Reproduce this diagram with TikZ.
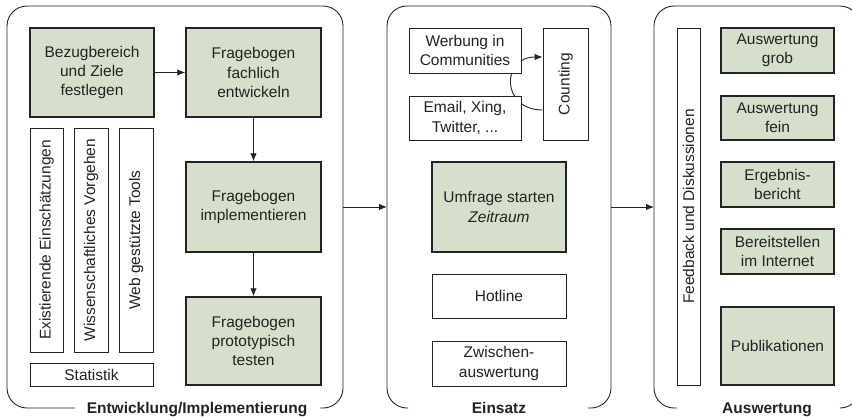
\documentclass[tikz,border=0pt]{standalone}
\usepackage{fontspec}
\setmainfont{Liberation Sans}
\usetikzlibrary{arrows.meta,backgrounds}
\definecolor{boxgreen}{RGB}{214,223,203}
\definecolor{ink}{RGB}{35,35,35}
\begin{document}
\begin{tikzpicture}[x=1pt,y=-1pt,
  font=\fontsize{15.5}{19.3}\selectfont, text=ink,
  gbox/.style={draw=ink, line width=1.5pt, fill=boxgreen, inner sep=0pt, align=center},
  wbox/.style={draw=ink, line width=0.9pt, fill=white, inner sep=0pt, align=center},
  vbox/.style={wbox, rotate=90},
  panel/.style={draw=ink, line width=0.9pt, rounded corners=20pt},
  plabel/.style={font=\fontsize{15.5}{18}\selectfont\bfseries, anchor=base, inner sep=0pt},
  arr/.style={draw=ink, line width=0.9pt, -{Latex[length=8pt,width=6.5pt]}}]
\useasboundingbox (0,0) rectangle (852,416);
\clip (0,0) rectangle (852,416);

% panels
\draw[panel] (75,408) -- (7,408) -- (7,6) -- (343,6) -- (343,408) -- (320,408);
\draw[panel] (408,408) -- (387,408) -- (387,6) -- (611,6) -- (611,408) -- (588,408);
\draw[panel] (677,408) -- (654,408) -- (654,6) -- (860,6) -- (860,408) -- (840,408);
\node[plabel] (l1) at (197,413) {Entwicklung/Implementierung};
\node[plabel] (l2) at (499,413) {Einsatz};
\node[plabel] (l3) at (767,413) {Auswertung};
\coordinate (p1r) at (343,207);
\coordinate (p2l) at (387,207);
\coordinate (p2r) at (611,207);
\coordinate (p3l) at (654,207);

% panel 1
\node[gbox, minimum width=124pt, minimum height=89pt] (bez) at (92,72.5) {Bezugbereich\\und Ziele\\festlegen};
\node[gbox, minimum width=135pt, minimum height=89pt] (fach) at (253.5,72.5) {Fragebogen\\fachlich\\entwickeln};
\node[gbox, minimum width=135pt, minimum height=90pt] (impl) at (253.5,207) {Fragebogen\\implementieren};
\node[gbox, minimum width=135pt, minimum height=88pt] (test) at (253.5,341) {Fragebogen\\prototypisch\\testen};
\node[vbox, minimum width=224pt, minimum height=33pt] (exi) at (46.5,240) {Existierende Einschätzungen};
\node[vbox, minimum width=224pt, minimum height=34pt] (wiss) at (91,240) {Wissenschaftliches Vorgehen};
\node[vbox, minimum width=224pt, minimum height=34pt] (web) at (136,240) {Web gestützte Tools};
\node[wbox, minimum width=123pt, minimum height=23pt] (stat) at (91.5,374.5) {Statistik};
\draw[arr] (bez) -- (fach);
\draw[arr] (fach) -- (impl);
\draw[arr] (impl) -- (test);

% panel 2
\node[wbox, minimum width=112pt, minimum height=45pt] (werb) at (465,50.5) {Werbung in\\Communities};
\node[wbox, minimum width=112pt, minimum height=44pt] (email) at (465,118) {Email, Xing,\\Twitter, ...};
\node[vbox, minimum width=112pt, minimum height=45pt] (count) at (565.5,84) {Counting};
\begin{scope}[on background layer]
\draw[arr] ([yshift=-26pt]count.north) .. controls (501,110) and (501,57) .. ([yshift=27pt]count.north);
\end{scope}
\node[gbox, minimum width=134pt, minimum height=90pt] (umf) at (499,207) {Umfrage starten\\\textit{Zeitraum}};
\node[wbox, minimum width=134pt, minimum height=44pt] (hot) at (499,296) {Hotline};
\node[wbox, minimum width=134pt, minimum height=45pt] (zw) at (499,363.5) {Zwischen-\\auswertung};

% panel 3
\node[vbox, minimum width=357pt, minimum height=23pt] (feed) at (688.5,206.5) {Feedback und Diskussionen};
\node[gbox, minimum width=113pt, minimum height=45pt] (ag) at (777.5,50.5) {Auswertung\\grob};
\node[gbox, minimum width=113pt, minimum height=44pt] (af) at (777.5,118) {Auswertung\\fein};
\node[gbox, minimum width=113pt, minimum height=45pt] (eb) at (777.5,184.5) {Ergebnis-\\bericht};
\node[gbox, minimum width=113pt, minimum height=45pt] (bi) at (777.5,251.5) {Bereitstellen\\im Internet};
\node[gbox, minimum width=113pt, minimum height=78pt] (pub) at (777.5,346) {Publikationen};

% panel connectors
\draw[arr] (p1r) -- (p2l);
\draw[arr] (p2r) -- (p3l);
\end{tikzpicture}
\end{document}
